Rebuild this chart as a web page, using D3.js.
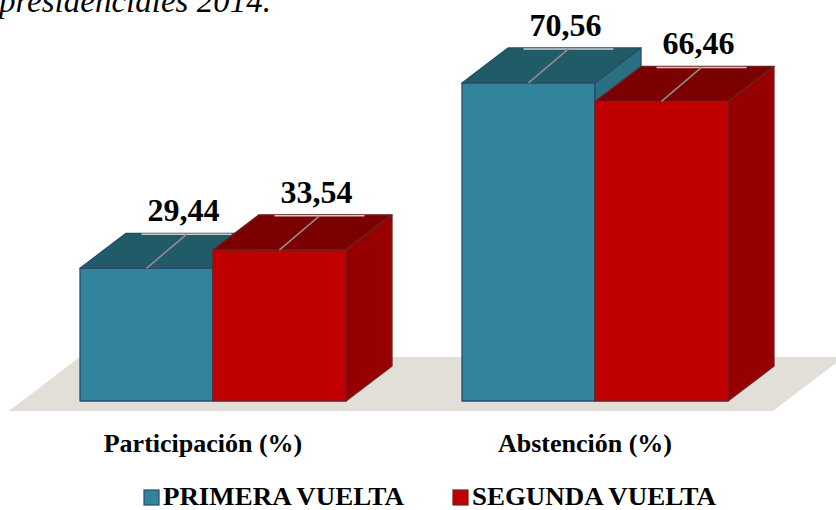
<!DOCTYPE html>
<html>
<head>
<meta charset="utf-8">
<script src="https://cdn.jsdelivr.net/npm/d3@7"></script>
<style>
	html, body { margin: 0; padding: 0; background: #fff; }
	svg { display: block; }
</style>
</head>
<body>
<svg id="chart"></svg>
<script>
// Data
var titleText = "presidenciales 2014.";
var categories = ["Participación (%)", "Abstención (%)"];
var series = ["PRIMERA VUELTA", "SEGUNDA VUELTA"];
var primera = [29.44, 70.56];
var segunda = [33.54, 66.46];

var values = [primera, segunda];

// Look
var W = 836, H = 510,
	serif = "'Liberation Serif', 'Times New Roman', serif",
	depth = { x: 46, y: -35 },
	colors = [
		{ front: "#31849b", top: "#215b67", side: "#2a7082", stroke: "#264b6e" },
		{ front: "#c00000", top: "#7b0000", side: "#960000", stroke: "#6e2222" }
	];

var svg = d3.select("#chart")
	.attr("width", W)
	.attr("height", H)
	.attr("viewBox", "0 0 " + W + " " + H);

var x0 = d3.scaleBand().domain(categories).range([22, 786]),
	x1 = d3.scaleBand().domain(series).range([-133, 133]),
	y = d3.scaleLinear().domain([0, 80]).range([401, 40.4]);

function pts(a) {
	return a.map(function (p) { return p.join(","); }).join(" ");
}

// Title fragment (cut off at the top, as in the source page)
svg.append("text")
	.attr("x", -1)
	.attr("y", 12)
	.attr("font-family", serif)
	.attr("font-style", "italic")
	.attr("font-size", 33)
	.attr("fill", "#000")
	.text(titleText);

// Floor
var fr = x0.range(), y0 = y(0),
	fFront = -0.286, fBack = 1.257;
svg.append("polygon")
	.attr("points", pts([
		[fr[0] + depth.x * fFront, y0 + depth.y * fFront],
		[fr[0] + depth.x * fBack, y0 + depth.y * fBack],
		[fr[1] + depth.x * fBack, y0 + depth.y * fBack],
		[fr[1] + depth.x * fFront, y0 + depth.y * fFront]
	]))
	.attr("fill", "#e2dfd9");

// Bars
var bars = [];
categories.forEach(function (c, i) {
	series.forEach(function (s, j) {
		bars.push({
			cat: c, ser: s, j: j, v: values[j][i],
			x: x0(c) + x0.bandwidth() / 2 + x1(s),
			w: x1.bandwidth()
		});
	});
});

var barG = svg.append("g");
bars.forEach(function (b) {
	var c = colors[b.j],
		t = y(b.v),
		g = barG.append("g")
			.attr("stroke", c.stroke)
			.attr("stroke-width", 1.3)
			.attr("stroke-linejoin", "round");

	g.append("rect")
		.attr("x", b.x)
		.attr("y", t)
		.attr("width", b.w)
		.attr("height", y0 - t)
		.attr("fill", c.front);

	g.append("polygon")
		.attr("points", pts([
			[b.x, t], [b.x + depth.x, t + depth.y],
			[b.x + b.w + depth.x, t + depth.y], [b.x + b.w, t]
		]))
		.attr("fill", c.top);

	g.append("polygon")
		.attr("points", pts([
			[b.x + b.w, t], [b.x + b.w + depth.x, t + depth.y],
			[b.x + b.w + depth.x, y0 + depth.y], [b.x + b.w, y0]
		]))
		.attr("fill", c.side);
});

// Data labels with leader lines
var labelG = svg.append("g");
bars.forEach(function (b) {
	var t = y(b.v),
		cx = b.x + b.w / 2;

	labelG.append("line")
		.attr("x1", cx - 5)
		.attr("x2", cx + 85)
		.attr("y1", t + depth.y + 1)
		.attr("y2", t + depth.y + 1)
		.attr("stroke", "#c9ced3")
		.attr("stroke-width", 1.6);

	labelG.append("line")
		.attr("x1", cx)
		.attr("y1", t)
		.attr("x2", cx + 40)
		.attr("y2", t + depth.y + 1)
		.attr("stroke", "#8e8e8e")
		.attr("stroke-width", 1.6);

	labelG.append("text")
		.attr("x", cx + 37)
		.attr("y", t - 47)
		.attr("text-anchor", "middle")
		.attr("font-family", serif)
		.attr("font-weight", "bold")
		.attr("font-size", 32)
		.attr("fill", "#000")
		.text(d3.format(".2f")(b.v).replace(".", ","));
});

// Category labels
svg.append("g")
	.selectAll("text")
	.data(categories)
	.join("text")
	.attr("x", function (d) { return x0(d) + x0.bandwidth() / 2 - 10; })
	.attr("y", 452)
	.attr("text-anchor", "middle")
	.attr("font-family", serif)
	.attr("font-weight", "bold")
	.attr("font-size", 26)
	.attr("fill", "#000")
	.text(function (d) { return d; });

// Legend
var legendX = d3.scalePoint().domain(series).range([144, 453]);
var legend = svg.append("g")
	.selectAll("g")
	.data(series)
	.join("g")
	.attr("transform", function (d) { return "translate(" + legendX(d) + ",490)"; });

legend.append("rect")
	.attr("width", 15)
	.attr("height", 15)
	.attr("fill", function (d, i) { return colors[i].front; })
	.attr("stroke", function (d, i) { return colors[i].stroke; })
	.attr("stroke-width", 1.2);

legend.append("text")
	.attr("x", 19)
	.attr("y", 15)
	.attr("font-family", serif)
	.attr("font-weight", "bold")
	.attr("font-size", 25)
	.attr("textLength", function (d, i) { return i ? 244 : 241; })
	.attr("lengthAdjust", "spacingAndGlyphs")
	.attr("fill", "#000")
	.text(function (d) { return d; });
</script>
</body>
</html>
